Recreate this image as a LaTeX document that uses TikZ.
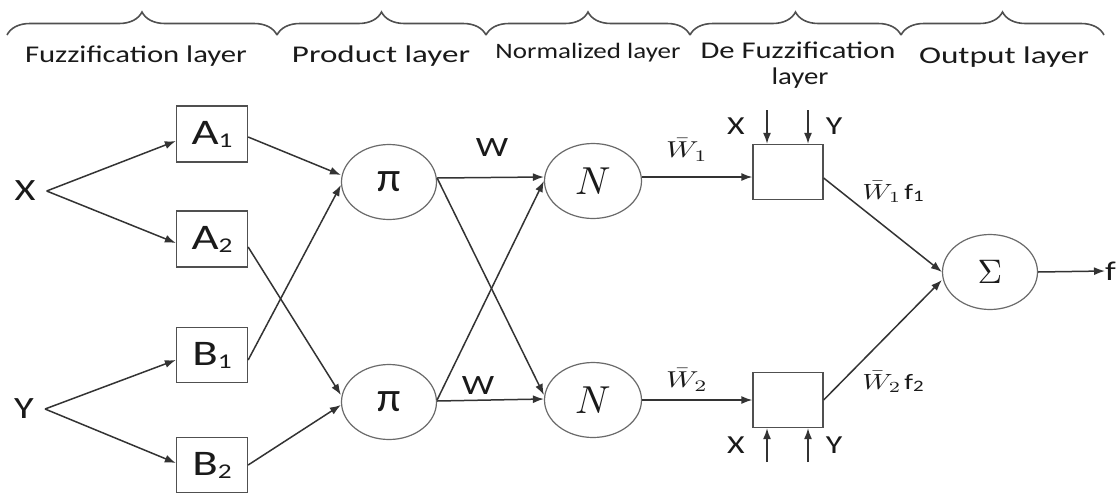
\documentclass[tikz,border=0pt]{standalone}
\usepackage[no-math]{fontspec}
\setmainfont{Carlito}
\usetikzlibrary{arrows.meta,shapes.geometric,decorations.pathreplacing}
\newcommand\hs[1]{\scalebox{1.3}[1]{#1}}
\newcommand\fitw[2]{\resizebox{#1}{\height}{#2}}
\newcommand\fsz[1]{\fontsize{#1}{#1}\selectfont}
\newcommand\mth[3]{{\fsz{10}\scalebox{#1}[#2]{$#3$}}}
\newcommand\boxlbl[2]{\hs{#1\raisebox{-3pt}{\fsz{21}#2}}}
\definecolor{ln}{HTML}{333333}
\definecolor{bx}{HTML}{505050}
\definecolor{el}{HTML}{6a6a6a}
\definecolor{tx}{HTML}{1a1a1a}
\begin{document}
\begin{tikzpicture}[x=1pt,y=-1pt,
  brc/.style={draw=bx,line width=1.6pt,decorate,decoration={brace,amplitude=23pt}},
  toplbl/.style={text=tx,inner sep=0pt,anchor=base,font=\fsz{24}},
  fbox/.style={draw=bx,line width=1.3pt,minimum width=71pt,minimum height=56pt,inner sep=0pt,text=tx,font=\fsz{36}},
  dbox/.style={draw=bx,line width=1.3pt,minimum width=70pt,minimum height=55pt,inner sep=0pt},
  oval/.style={draw=el,line width=1.2pt,ellipse,minimum width=95pt,minimum height=75pt,inner sep=0pt,text=tx},
  inlbl/.style={text=tx,inner sep=0pt,inner xsep=11pt,font=\fsz{31}},
  lbl/.style={text=tx,inner sep=0pt},
  arr/.style={draw=ln,line width=1.5pt,-{Latex[length=11pt,width=8pt]}}
]
\useasboundingbox (0,0) rectangle (1119,493);
\fill[white] (0,0) rectangle (1119,493);

% braces
\draw[brc] (7,35) -- (277,35);
\draw[brc] (277,35) -- (486,35);
\draw[brc] (486,35) -- (690,35);
\draw[brc] (690,35) -- (901,35);
\draw[brc] (901,35) -- (1104,35);

% layer labels
\node[toplbl] (L1) at (136,62) {\fitw{222pt}{Fuzzification layer}};
\node[toplbl] (L2) at (381,62) {\fitw{178pt}{Product layer}};
\node[toplbl,font=\fsz{22}] (L3) at (588,58) {\fitw{185pt}{Normalized layer}};
\node[toplbl] (L4) at (798,58) {\fitw{195pt}{De Fuzzification}};
\node[toplbl] (L4b) at (800,84) {\fitw{57pt}{layer}};
\node[toplbl] (L5) at (1004,63) {\fitw{170pt}{Output layer}};

% inputs
\node[inlbl] (X) at (25,191) {\hs{X}};
\node[inlbl] (Y) at (24,409) {\hs{Y}};

% fuzzification boxes
\node[fbox] (A1) at (212,134) {\boxlbl{A}{1}};
\node[fbox] (A2) at (212,239) {\boxlbl{A}{2}};
\node[fbox,minimum height=55pt] (B1) at (212,355) {\boxlbl{B}{1}};
\node[fbox,minimum height=55pt] (B2) at (212,465) {\boxlbl{B}{2}};

% product nodes
\node[oval,font=\fsz{42}] (P1) at (389,182) {π};
\node[oval,font=\fsz{42}] (P2) at (389,402) {π};

% normalized nodes
\node[oval,minimum width=97pt] (N1) at (593,181) {\mth{3.9}{3.9}{N}};
\node[oval,minimum width=97pt] (N2) at (593,400) {\mth{3.9}{3.9}{N}};

% defuzzification boxes
\node[dbox] (D1) at (788,172) {};
\node[dbox] (D2) at (788,400) {};

% sum node
\node[oval] (S) at (990,272) {\mth{3.4}{3.4}{\Sigma}};
\node[lbl,anchor=west,font=\fsz{27}] (F) at (1105,271) {\hs{f}};

% edges input -> fuzzification
\draw[arr] (X.east) -- ([yshift=-7pt]A1.west);
\draw[arr] (X.east) -- ([yshift=-4pt]A2.west);
\draw[arr] (Y.east) -- ([yshift=-5pt]B1.west);
\draw[arr] (Y.east) -- ([yshift=2pt]B2.west);

% fuzzification -> product
\draw[arr] ([yshift=-3pt]A1.east) -- ([yshift=7pt]P1.west);
\draw[arr] ([yshift=-5pt]B1.east) -- ([yshift=-3pt]P1.west);
\draw[arr] ([yshift=-8pt]A2.east) -- ([yshift=7pt]P2.west);
\draw[arr] (B2.east) -- ([yshift=-3pt]P2.west);

% product -> normalized
\draw[arr] ([yshift=4pt]P1.east) -- ([yshift=4pt]N1.west);
\draw[arr] ([yshift=4pt]P1.east) -- ([yshift=5pt]N2.west);
\draw[arr] ([yshift=2pt]P2.east) -- (N1.west);
\draw[arr] ([yshift=1pt]P2.east) -- ([yshift=1pt]N2.west);
\node[lbl,font=\fsz{28}] (W1) at (492,148) {\hs{W}};
\node[lbl,font=\fsz{28}] (W2) at (478,386) {\hs{W}};

% normalized -> defuzzification
\coordinate (n1o) at ([yshift=4pt]N1.east);
\draw[arr] (n1o) -- (n1o -| D1.west);
\draw[arr] (N2.east) -- (N2.east -| D2.west);
\node[lbl] (w1) at (687,150) {\mth{3.0}{2.3}{\bar{W}_1}};
\node[lbl] (w2) at (687,380) {\mth{3.0}{2.3}{\bar{W}_2}};

% X, Y into defuzzification boxes
\coordinate (tx1) at (767,110);
\coordinate (tx2) at (808,110);
\coordinate (bx1) at (767,462);
\coordinate (bx2) at (808,462);
\draw[arr] (tx1) -- (tx1 |- D1.north);
\draw[arr] (tx2) -- (tx2 |- D1.north);
\draw[arr] (bx1) -- (bx1 |- D2.south);
\draw[arr] (bx2) -- (bx2 |- D2.south);
\node[lbl,font=\fsz{26}] (dX1) at (736,126) {\hs{X}};
\node[lbl,font=\fsz{26}] (dY1) at (834,126) {\hs{Y}};
\node[lbl,font=\fsz{26}] (dX2) at (736,445) {\hs{X}};
\node[lbl,font=\fsz{26}] (dY2) at (834,445) {\hs{Y}};

% defuzzification -> sum
\draw[arr] ([yshift=-6pt]D1.east) -- (S.west);
\draw[arr] (D2.east) -- ([yshift=-8pt]S.west);
\node[lbl,font=\fsz{22}] (wf1) at (893,192) {\mth{2.8}{2.2}{\bar{W}_1}\hspace{3pt}\hs{f\raisebox{-2pt}{\fsz{16}1}}};
\node[lbl,font=\fsz{22}] (wf2) at (893,382) {\mth{2.8}{2.2}{\bar{W}_2}\hspace{3pt}\hs{f\raisebox{-2pt}{\fsz{16}2}}};

% output
\draw[arr] (S.east) -- (F.west);
\end{tikzpicture}
\end{document}
